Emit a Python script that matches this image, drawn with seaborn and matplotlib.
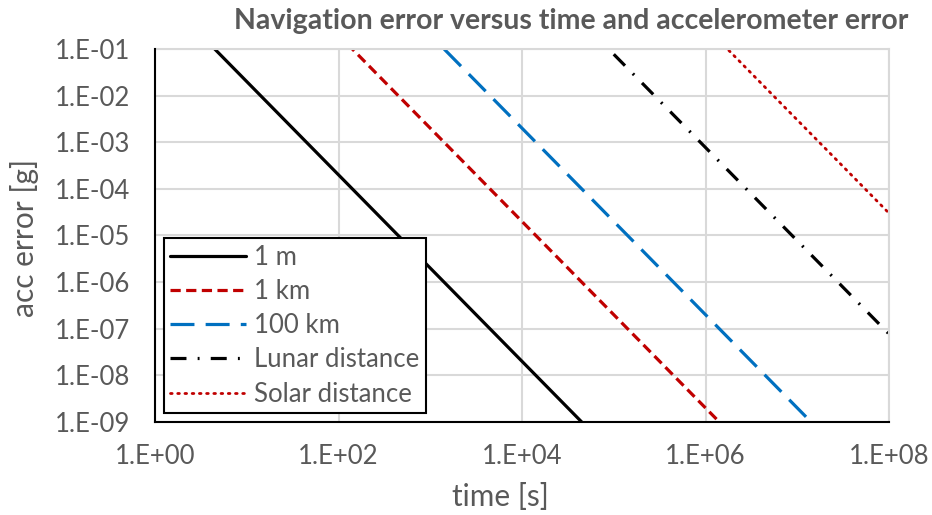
import numpy as np
import pandas as pd
import matplotlib
matplotlib.use("Agg")
import matplotlib.pyplot as plt
import seaborn as sns

# Time axis samples [s]
time_s = [1e0, 1e1, 1e2, 1e3, 1e4, 1e5, 1e6, 1e7, 1e8]

# Accelerometer error [g] that gives each navigation error after a given time
acc_1m = [2e0, 2e-2, 2e-4, 2e-6, 2e-8, 2e-10, 2e-12, 2e-14, 2e-16]
acc_1km = [2e3, 2e1, 2e-1, 2e-3, 2e-5, 2e-7, 2e-9, 2e-11, 2e-13]
acc_100km = [2e5, 2e3, 2e1, 2e-1, 2e-3, 2e-5, 2e-7, 2e-9, 2e-11]
acc_lunar = [np.nan, np.nan, np.nan, np.nan, np.nan, 7.7e-2, 7.7e-4, 7.7e-6, 7.7e-8]
acc_solar = [np.nan, np.nan, np.nan, np.nan, np.nan, 3.0e1, 3.0e-1, 3.0e-3, 3.0e-5]

series_names = ["1 m", "1 km", "100 km", "Lunar distance", "Solar distance"]
series_values = [acc_1m, acc_1km, acc_100km, acc_lunar, acc_solar]

x_ticks = [1e0, 1e2, 1e4, 1e6, 1e8]
x_tick_labels = ["1.E+00", "1.E+02", "1.E+04", "1.E+06", "1.E+08"]
y_ticks = [1e-9, 1e-8, 1e-7, 1e-6, 1e-5, 1e-4, 1e-3, 1e-2, 1e-1]
y_tick_labels = ["1.E-09", "1.E-08", "1.E-07", "1.E-06", "1.E-05",
                 "1.E-04", "1.E-03", "1.E-02", "1.E-01"]

sns.set_style("white")
plt.rcParams["font.family"] = ["Lato", "DejaVu Sans"]

text_gray = "#595959"
grid_gray = "#D9D9D9"

styles = [
    dict(color="black", linestyle="-", lw=2.3),
    dict(color="#C00000", linestyle=(0, (3.2, 1.7)), lw=2.3),
    dict(color="#0070C0", linestyle=(0, (7.5, 3.5)), lw=2.3),
    dict(color="black", linestyle=(0, (5, 3.5, 0.6, 3.5)), lw=2.3),
    dict(color="#C00000", linestyle=(0, (0.6, 2.0)), lw=2.0),
]

fig = plt.figure(figsize=(9.32, 5.15), dpi=100)
ax = fig.add_axes([0.1663, 0.1806, 0.7876, 0.7243])

for name, vals, st in zip(series_names, series_values, styles):
    df = pd.DataFrame({"time": time_s, "acc": vals}).dropna()
    sns.lineplot(data=df, x="time", y="acc", ax=ax, label=name,
                 color=st["color"], linestyle=st["linestyle"], linewidth=st["lw"],
                 dash_capstyle="butt" if name != "Solar distance" else "round")

ax.set_xscale("log")
ax.set_yscale("log")
ax.set_xlim(1e0, 1e8)
ax.set_ylim(1e-9, 1e-1)

ax.set_xticks(x_ticks)
ax.set_xticklabels(x_tick_labels)
ax.set_yticks(y_ticks)
ax.set_yticklabels(y_tick_labels)
ax.minorticks_off()
ax.tick_params(axis="both", length=0, labelsize=18.5, colors=text_gray)
ax.tick_params(axis="y", pad=18)
ax.tick_params(axis="x", pad=16)

ax.grid(True, which="major", color=grid_gray, linewidth=1.5)
ax.set_axisbelow(True)

for side in ["top", "right"]:
    ax.spines[side].set_color(grid_gray)
    ax.spines[side].set_linewidth(1.5)
for side in ["left", "bottom"]:
    ax.spines[side].set_color("black")
    ax.spines[side].set_linewidth(1.5)
    ax.spines[side].set_zorder(3)

ax.set_xlabel("")
ax.set_ylabel("")
fig.text(500 / 932, 1 - 497 / 515, "time [s]", fontsize=21.5, color=text_gray,
         ha="center", va="center")
fig.text(25 / 932, 1 - 238 / 515, "acc error [g]", fontsize=21.5, color=text_gray,
         ha="center", va="center", rotation=90)
fig.text(0.6127, 0.960, "Navigation error versus time and accelerometer error",
         fontsize=20.5, fontweight="bold", color=text_gray, ha="center", va="center")

leg = ax.legend(loc="lower left", fontsize=18.5, frameon=True, fancybox=False,
                handlelength=2.95, handletextpad=0.3, labelspacing=0.36,
                borderpad=0.25, borderaxespad=0.35)
leg.get_frame().set_edgecolor("black")
leg.get_frame().set_linewidth(1.5)
leg.get_frame().set_alpha(1)
for t in leg.get_texts():
    t.set_color(text_gray)

fig.savefig("out.png", dpi=100, facecolor="white")
